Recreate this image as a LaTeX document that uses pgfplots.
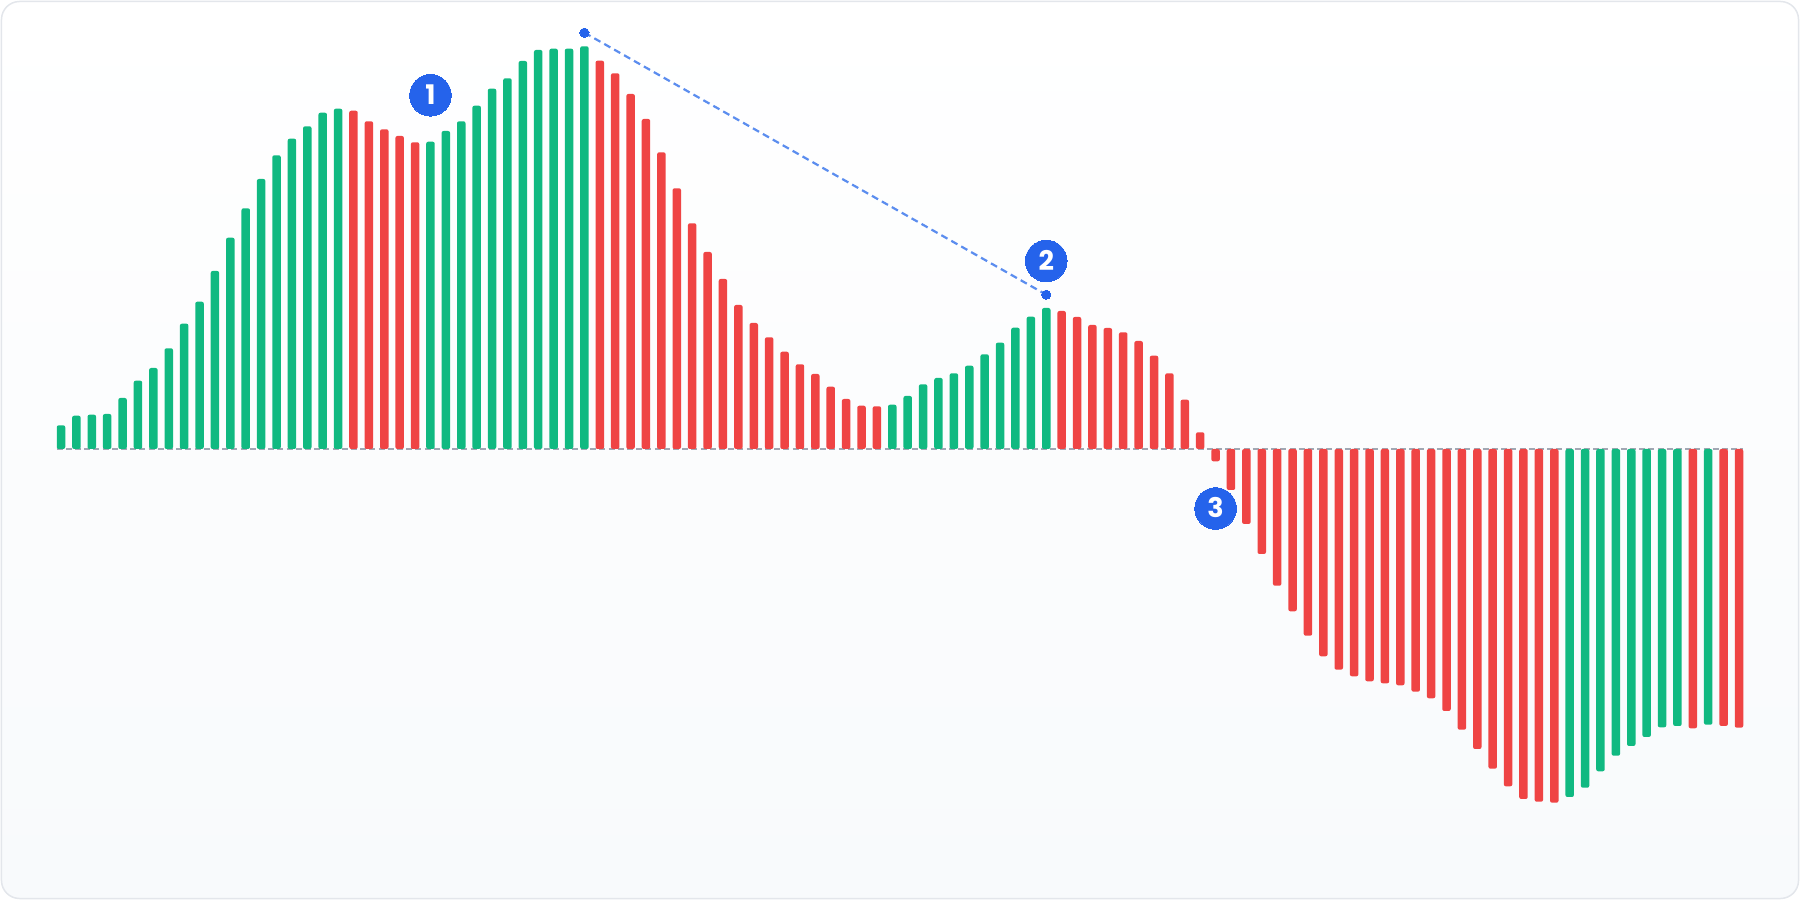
\documentclass[border=0pt]{standalone}
\usepackage{pgfplots}
\pgfplotsset{compat=1.18}
\usepackage{fontspec}
\setmainfont{Poppins}

\definecolor{upgreen}{HTML}{10B981}
\definecolor{downred}{HTML}{EF4444}
\definecolor{badgeblue}{HTML}{2563EB}
\definecolor{trendblue}{HTML}{5B8DEF}
\definecolor{zerogray}{HTML}{A1A7B3}
\definecolor{cardedge}{HTML}{E3E6EB}
\definecolor{cardbottom}{HTML}{F8FAFC}

% 1 px of the 1800x900 reference = 0.5pt
\begin{document}
\begin{tikzpicture}
\begin{axis}[
    width=900pt, height=450pt,
    scale only axis,
    hide axis,
    clip=false,
    xmin=-2.9625, xmax=113.9625,
    ymin=-451, ymax=449,
]
% card
\shadedraw[top color=white, bottom color=cardbottom, draw=cardedge,
    line width=0.75pt, rounded corners=9pt]
    (rel axis cs:0.00083,0.00167) rectangle (rel axis cs:0.99917,0.99833);

% zero line
\addplot[color=zerogray, line width=0.7pt, dash pattern=on 3pt off 1.6pt]
    coordinates {(0.72,0) (110.28,0)};

% rising bars
\addplot[ybar, bar width=4.25pt, bar shift=0pt, fill=upgreen, draw=none,
    rounded corners=1pt] coordinates {
    (1,23.7) (2,33.3) (3,34.3) (4,35) (5,51) (6,68.3) (7,81) (8,100.7)
    (9,125.3) (10,147.3) (11,178) (12,211.3) (13,240.7) (14,270) (15,293.7)
    (16,310.3) (17,322.7) (18,336.3) (19,340.3)
    (25,307.3) (26,318) (27,327.7) (28,343.3) (29,360.3) (30,370.7) (31,388)
    (32,399) (33,400.3) (34,400.3) (35,402.7)
    (55,44.3) (56,53) (57,64.7) (58,71) (59,75.7) (60,83.3) (61,94.7)
    (62,106.3) (63,121.3) (64,132.3) (65,141)
    (99,-348) (100,-338.7) (101,-322.3) (102,-306.7) (103,-297) (104,-288)
    (105,-278.3) (106,-277) (108,-275.7)
};

% falling bars
\addplot[ybar, bar width=4.25pt, bar shift=0pt, fill=downred, draw=none,
    rounded corners=1pt] coordinates {
    (20,338.3) (21,327.7) (22,319.7) (23,313) (24,306.7)
    (36,388.3) (37,375.7) (38,355) (39,330) (40,296.7) (41,260.7) (42,225.7)
    (43,197) (44,170) (45,144) (46,126) (47,111.7) (48,97.3) (49,84.7)
    (50,75) (51,62.3) (52,50) (53,43.3) (54,42.7)
    (66,138) (67,132) (68,124) (69,121) (70,116.7) (71,108) (72,93.3)
    (73,75.7) (74,49.3) (75,16.7) (76,-12.3) (77,-41) (78,-75) (79,-105)
    (80,-136.7) (81,-162.3) (82,-186.7) (83,-207.3) (84,-220.7) (85,-227.3)
    (86,-232.3) (87,-234.3) (88,-236.3) (89,-242.7) (90,-249.3) (91,-262)
    (92,-280.7) (93,-300) (94,-319.7) (95,-337.3) (96,-350) (97,-352.7)
    (98,-353.7) (107,-279.3) (109,-277) (110,-278.7)
};

% divergence line between the two peaks
\addplot[color=trendblue, line width=1.1pt, dash pattern=on 3.5pt off 2.2pt,
    mark=*, mark size=2.3pt,
    mark options={solid, fill=badgeblue, draw=badgeblue, line width=0pt}]
    coordinates {(35,416.3) (65,154.3)};

% numbered badges
\addplot[only marks, color=badgeblue, mark=*, mark size=10.4pt,
    mark options={fill=badgeblue, draw=badgeblue, line width=0pt},
    point meta=explicit symbolic,
    nodes near coords,
    every node near coord/.append style={anchor=center, text=white,
        font=\fontsize{13.5}{15}\selectfont\bfseries, yshift=0.3pt}]
    coordinates {(25,353.7) [1] (65,188) [2] (76,-59.5) [3]};
\end{axis}
\pgfresetboundingbox
\useasboundingbox (current axis.south west) rectangle (current axis.north east);
\end{tikzpicture}
\end{document}
